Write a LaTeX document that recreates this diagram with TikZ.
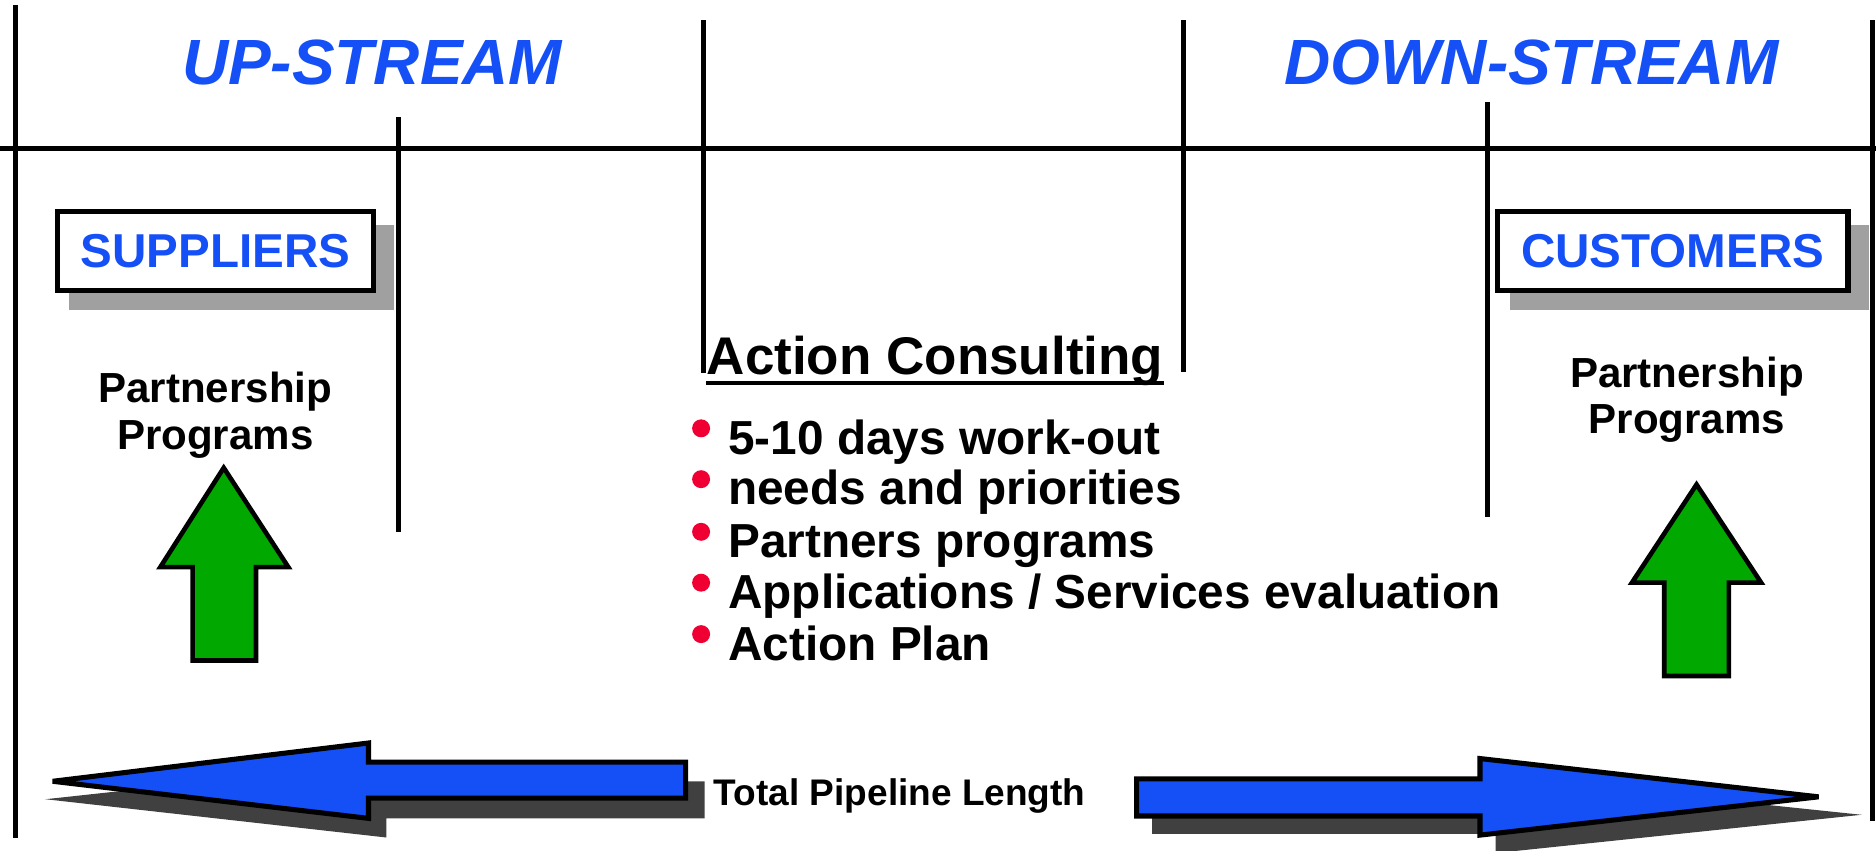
\documentclass[tikz,border=0pt]{standalone}
\usepackage{fontspec}
\setmainfont{Liberation Sans}
\definecolor{streamblue}{RGB}{20,80,245}
\definecolor{arrowgreen}{RGB}{0,168,0}
\definecolor{bulletred}{RGB}{240,0,50}
\definecolor{boxgray}{RGB}{160,160,160}
\definecolor{pipegray}{RGB}{64,64,64}
\tikzset{
	divider/.style={line width=1.2pt},
	streamtitle/.style={anchor=base, inner sep=0, text=streamblue, font=\fontsize{15.2}{18}\selectfont\bfseries\itshape},
	partybox/.style={draw, fill=white, line width=1.2pt, minimum height=0.66cm, text=streamblue, font=\fontsize{11.3}{13}\selectfont\bfseries},
	programtext/.style={align=center, inner sep=0, font=\fontsize{10}{11.1}\selectfont\bfseries},
	uparrow/.style={draw, fill=arrowgreen, line width=1.1pt, miter limit=20},
	pipearrow/.style={draw, fill=streamblue, line width=1.2pt, miter limit=4},
	worklist/.style={anchor=base west, inner sep=0, font=\fontsize{11.35}{13}\selectfont\bfseries},
	bulletdot/.style={fill=bulletred}
}

\begin{document}
\begin{tikzpicture}[x=0.01cm, y=-0.01cm]
			%%%%% START %%%%%
			\useasboundingbox (0, 0) rectangle (1568, 711);
			
			\draw[divider] (0, 124) -- (1568, 124);
			\draw[divider] (13, 4) -- (13, 700);
			\draw[divider] (333, 98) -- (333, 445);
			\draw[divider] (588, 17) -- (588, 312);
			\draw[divider] (989, 17) -- (989, 311);
			\draw[divider] (1243, 85) -- (1243, 432);
			
			\node[streamtitle] (upstream) at (311, 71) {UP-STREAM};
			\node[streamtitle] (downstream) at (1280, 71) {DOWN-STREAM};
			
			\fill[boxgray] (58, 188) rectangle (329, 259);
			\node[partybox, minimum width=2.64cm] (suppliers) at (180, 210) {SUPPLIERS};
			\fill[boxgray] (1262, 188) rectangle (1562, 259);
			\node[partybox, minimum width=2.93cm] (customers) at (1398, 210) {CUSTOMERS};
			
			\draw[divider] (1565, 17) -- (1565, 686);
			
			\node[programtext] (supplierprog) at (180, 347) {Partnership\\Programs};
			\node[programtext] (customerprog) at (1410, 334) {Partnership\\Programs};
			
			\draw[uparrow] (187, 391) -- (241, 474) -- (214, 474) -- (214, 552) -- (161, 552) -- (161, 474) -- (134, 474) -- cycle;
			\draw[uparrow] (1418, 405) -- (1472, 487) -- (1445, 487) -- (1445, 565) -- (1391, 565) -- (1391, 487) -- (1364, 487) -- cycle;
			
			\node[anchor=base west, inner sep=0, font=\fontsize{12.6}{15}\selectfont\bfseries] (consulting) at (590, 313) {Action Consulting};
			\draw[line width=0.95pt] ([yshift=-2pt]consulting.base west) -- ([yshift=-2pt]consulting.base east);
			
			\fill[bulletdot] (586, 358) circle (0.075cm);
			\node[worklist] (workout) at (608, 379.5) {5-10 days work-out};
			\fill[bulletdot] (586, 400.5) circle (0.075cm);
			\node[worklist] (needs) at (608, 422) {needs and priorities};
			\fill[bulletdot] (586, 444.5) circle (0.075cm);
			\node[worklist] (partners) at (608, 466) {Partners programs};
			\fill[bulletdot] (586, 487) circle (0.075cm);
			\node[worklist] (evaluation) at (608, 508.5) {Applications / Services evaluation};
			\fill[bulletdot] (586, 530) circle (0.075cm);
			\node[worklist] (actionplan) at (608, 551.7) {Action Plan};
			
			\fill[pipegray] (38, 668) -- (323, 637) -- (323, 653) -- (589, 653) -- (589, 684) -- (323, 684) -- (323, 700) -- cycle;
			\draw[pipearrow] (44, 653) -- (308, 621) -- (308, 637) -- (573, 637) -- (573, 667) -- (308, 667) -- (308, 684) -- cycle;
			
			\fill[pipegray] (963, 666) -- (1250, 666) -- (1250, 649) -- (1556, 681) -- (1250, 713) -- (1250, 697) -- (963, 697) -- cycle;
			\draw[pipearrow] (950, 651) -- (1237, 651) -- (1237, 634) -- (1520, 666) -- (1237, 698) -- (1237, 682) -- (950, 682) -- cycle;
			
			\node[anchor=base west, inner sep=0, font=\fontsize{8.8}{11}\selectfont\bfseries] (pipeline) at (596, 673) {Total Pipeline Length};
			
			%%%%% END %%%%%
\end{tikzpicture}
\end{document}
